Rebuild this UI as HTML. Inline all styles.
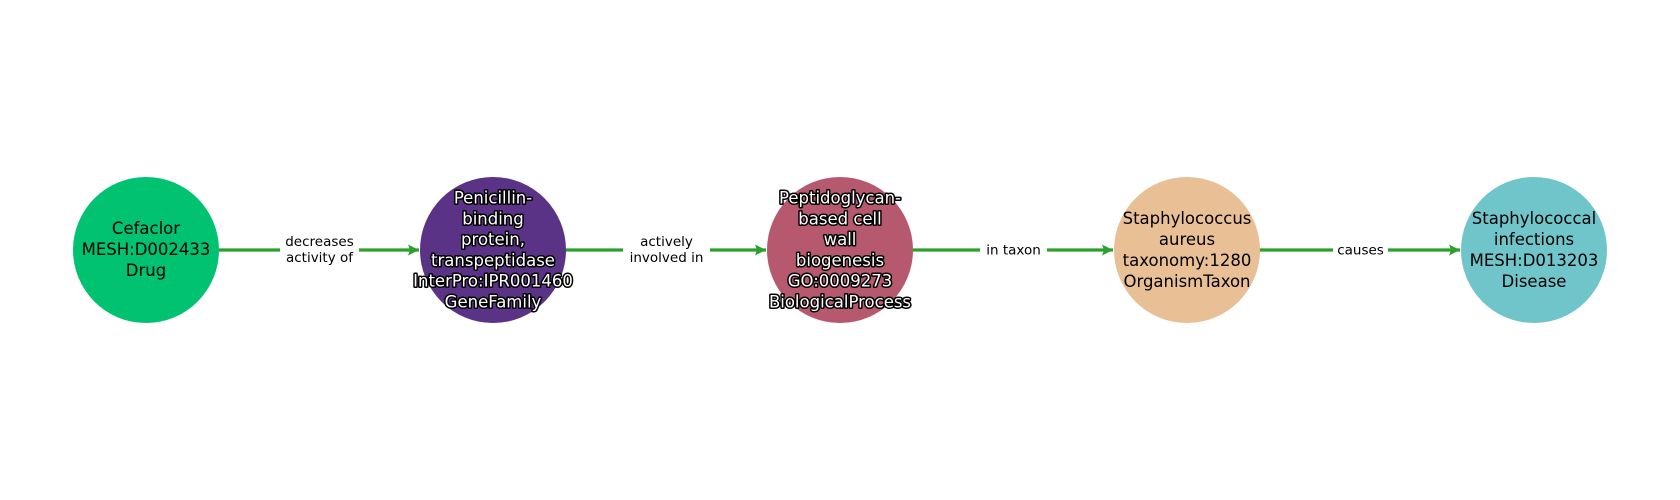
<!DOCTYPE html>
<html><head><meta charset="utf-8"><style>html,body{margin:0;padding:0;background:#fff}svg{display:block}</style></head>
<body>
<svg width="1680" height="500" viewBox="0 0 1680 500" xmlns="http://www.w3.org/2000/svg" font-family="DejaVu Sans, Liberation Sans, sans-serif">
<defs>
<marker id="a" markerWidth="11" markerHeight="11" refX="11" refY="5.5" orient="auto" markerUnits="userSpaceOnUse">
<path d="M0,0 L11,5.5 L0,11 L2,5.5 Z" fill="#2ca02c"/>
</marker>
</defs>
<g stroke="#2ca02c" stroke-width="3.3" fill="none">
<line x1="219" y1="250" x2="419" y2="250" marker-end="url(#a)"/>
<line x1="566" y1="250" x2="766" y2="250" marker-end="url(#a)"/>
<line x1="913" y1="250" x2="1113" y2="250" marker-end="url(#a)"/>
<line x1="1260" y1="250" x2="1460" y2="250" marker-end="url(#a)"/>
</g>
<g fill="#fff">
<rect x="280" y="232" width="79" height="36"/>
<rect x="623" y="232" width="87" height="36"/>
<rect x="980" y="240" width="67" height="20"/>
<rect x="1333" y="240" width="55" height="20"/>
</g>
<g font-size="13.5" fill="#000" text-anchor="middle">
<text x="319.5" y="246">decreases</text>
<text x="319.5" y="262">activity of</text>
<text x="666.5" y="246">actively</text>
<text x="666.5" y="262">involved in</text>
<text x="1013.5" y="254.5">in taxon</text>
<text x="1360.5" y="254.5">causes</text>
</g>
<circle cx="146" cy="250" r="73" fill="#00c271"/>
<circle cx="493" cy="250" r="73" fill="#5a3286"/>
<circle cx="840" cy="250" r="73" fill="#b6596e"/>
<circle cx="1187" cy="250" r="73" fill="#e9bf95"/>
<circle cx="1534" cy="250" r="73" fill="#70c5cb"/>
<g font-size="16.5" text-anchor="middle">
<g fill="#000">
<text x="146" y="234">Cefaclor</text>
<text x="146" y="255">MESH:D002433</text>
<text x="146" y="276">Drug</text>
<text x="1187" y="224">Staphylococcus</text>
<text x="1187" y="245">aureus</text>
<text x="1187" y="266">taxonomy:1280</text>
<text x="1187" y="287">OrganismTaxon</text>
<text x="1534" y="224">Staphylococcal</text>
<text x="1534" y="245">infections</text>
<text x="1534" y="266">MESH:D013203</text>
<text x="1534" y="287">Disease</text>
</g>
<g fill="#fff" stroke="#000" stroke-width="3" paint-order="stroke" stroke-linejoin="round">
<text x="493" y="203.5">Penicillin-</text>
<text x="493" y="224.5">binding</text>
<text x="493" y="245">protein,</text>
<text x="493" y="266">transpeptidase</text>
<text x="493" y="286.5">InterPro:IPR001460</text>
<text x="493" y="307.5">GeneFamily</text>
<text x="840" y="203.5">Peptidoglycan-</text>
<text x="840" y="224.5">based cell</text>
<text x="840" y="245">wall</text>
<text x="840" y="266">biogenesis</text>
<text x="840" y="286.5">GO:0009273</text>
<text x="840" y="307.5">BiologicalProcess</text>
</g>
</g>
</svg>
</body></html>
